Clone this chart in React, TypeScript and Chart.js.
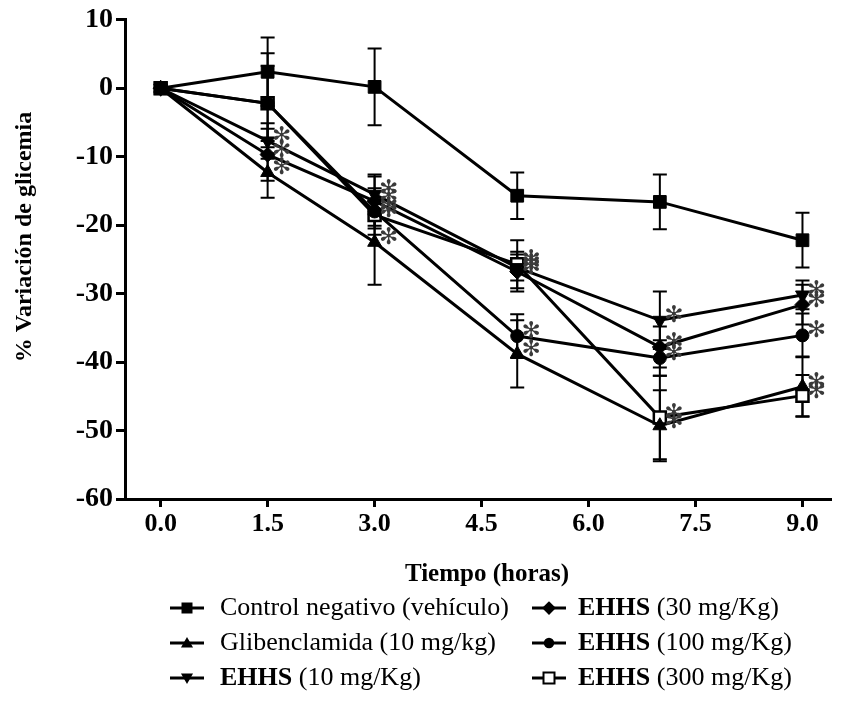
import React, { useEffect, useRef } from 'react';
import { Chart, registerables } from 'chart.js';

Chart.register(...registerables);

// ---------- data ----------
const times = [0, 1.5, 3, 5, 7, 9];
const xTickValues = [0, 1.5, 3, 4.5, 6, 7.5, 9];
const xTickLabels = ['0.0', '1.5', '3.0', '4.5', '6.0', '7.5', '9.0'];
const yTickValues = [-60, -50, -40, -30, -20, -10, 0, 10];

const controlValues = [0, 2.4, 0.2, -15.7, -16.6, -22.2];
const controlErrors = [0, 5.0, 5.6, 3.4, 4.0, 4.0];
const controlSig = [0, 0, 0, 0, 0, 0];

const glibValues = [0, -12.3, -22.5, -38.8, -49.3, -43.6];
const glibErrors = [0, 3.7, 6.2, 4.9, 5.2, 4.4];
const glibSig = [0, 1, 1, 1, 1, 1];

const ehhs10Values = [0, -7.7, -15.5, -26.2, -33.9, -30.2];
const ehhs10Errors = [0, 2.6, 2.9, 1.9, 4.2, 2.1];
const ehhs10Sig = [0, 1, 1, 1, 1, 1];

const ehhs30Values = [0, -9.7, -16.5, -26.8, -37.8, -31.6];
const ehhs30Errors = [0, 3.8, 3.6, 2.9, 3.0, 2.9];
const ehhs30Sig = [0, 1, 1, 1, 1, 1];

const ehhs100Values = [0, -2.2, -18.0, -36.2, -39.4, -36.1];
const ehhs100Errors = [0, 5.5, 3.4, 3.2, 2.6, 3.2];
const ehhs100Sig = [0, 0, 1, 1, 1, 1];

const ehhs300Values = [0, -2.2, -18.5, -25.7, -48.1, -44.9];
const ehhs300Errors = [0, 7.3, 2.0, 3.5, 6.1, 3.0];
const ehhs300Sig = [0, 0, 1, 1, 1, 1];

const legendBold = ['', '', 'EHHS', 'EHHS', 'EHHS', 'EHHS'];
const legendRest = [
  'Control negativo (vehículo)',
  'Glibenclamida (10 mg/kg)',
  ' (10 mg/Kg)',
  ' (30 mg/Kg)',
  ' (100 mg/Kg)',
  ' (300 mg/Kg)',
];
const seriesNames = [
  'Control negativo (vehículo)',
  'Glibenclamida (10 mg/kg)',
  'EHHS (10 mg/Kg)',
  'EHHS (30 mg/Kg)',
  'EHHS (100 mg/Kg)',
  'EHHS (300 mg/Kg)',
];

const yTitle = '% Variación de glicemia';
const xTitle = 'Tiempo (horas)';

// ---------- styles ----------
type Marker = 'square' | 'triangle' | 'invtriangle' | 'diamond' | 'circle' | 'opensquare';
const series = [
  { values: controlValues, errors: controlErrors, sig: controlSig, marker: 'square' as Marker },
  { values: glibValues, errors: glibErrors, sig: glibSig, marker: 'triangle' as Marker },
  { values: ehhs10Values, errors: ehhs10Errors, sig: ehhs10Sig, marker: 'invtriangle' as Marker },
  { values: ehhs30Values, errors: ehhs30Errors, sig: ehhs30Sig, marker: 'diamond' as Marker },
  { values: ehhs100Values, errors: ehhs100Errors, sig: ehhs100Sig, marker: 'circle' as Marker },
  { values: ehhs300Values, errors: ehhs300Errors, sig: ehhs300Sig, marker: 'opensquare' as Marker },
];

const FONT = "'Liberation Serif', 'Times New Roman', serif";

function pointStyleFor(m: Marker) {
  switch (m) {
    case 'square':
      return { pointStyle: 'rect', pointRotation: 0, pointRadius: 9, pointBackgroundColor: '#000', pointBorderWidth: 1 };
    case 'triangle':
      return { pointStyle: 'triangle', pointRotation: 0, pointRadius: 8, pointBackgroundColor: '#000', pointBorderWidth: 1 };
    case 'invtriangle':
      return { pointStyle: 'triangle', pointRotation: 180, pointRadius: 8, pointBackgroundColor: '#000', pointBorderWidth: 1 };
    case 'diamond':
      return { pointStyle: 'rectRot', pointRotation: 0, pointRadius: 7.5, pointBackgroundColor: '#000', pointBorderWidth: 1 };
    case 'circle':
      return { pointStyle: 'circle', pointRotation: 0, pointRadius: 6.5, pointBackgroundColor: '#000', pointBorderWidth: 1 };
    default:
      return { pointStyle: 'rect', pointRotation: 0, pointRadius: 8.5, pointBackgroundColor: '#fff', pointBorderWidth: 2.5 };
  }
}

function drawMarker(ctx: CanvasRenderingContext2D, m: Marker, x: number, y: number, r: number) {
  ctx.save();
  ctx.fillStyle = '#000';
  ctx.strokeStyle = '#000';
  ctx.beginPath();
  if (m === 'square') {
    ctx.rect(x - r, y - r, 2 * r, 2 * r);
    ctx.fill();
  } else if (m === 'opensquare') {
    ctx.lineWidth = 2;
    ctx.fillStyle = '#fff';
    ctx.rect(x - r, y - r, 2 * r, 2 * r);
    ctx.fill();
    ctx.stroke();
  } else if (m === 'triangle') {
    ctx.moveTo(x, y - r * 1.1);
    ctx.lineTo(x + r * 1.1, y + r * 0.8);
    ctx.lineTo(x - r * 1.1, y + r * 0.8);
    ctx.closePath();
    ctx.fill();
  } else if (m === 'invtriangle') {
    ctx.moveTo(x, y + r * 1.1);
    ctx.lineTo(x + r * 1.1, y - r * 0.8);
    ctx.lineTo(x - r * 1.1, y - r * 0.8);
    ctx.closePath();
    ctx.fill();
  } else if (m === 'diamond') {
    ctx.moveTo(x, y - r * 1.25);
    ctx.lineTo(x + r * 1.25, y);
    ctx.lineTo(x, y + r * 1.25);
    ctx.lineTo(x - r * 1.25, y);
    ctx.closePath();
    ctx.fill();
  } else {
    ctx.arc(x, y, r * 0.95, 0, Math.PI * 2);
    ctx.fill();
  }
  ctx.restore();
}

const errorBarPlugin = {
  id: 'errorBars',
  beforeDatasetsDraw(chart: any) {
    const { ctx } = chart;
    const xs = chart.scales.x;
    const ys = chart.scales.y;
    ctx.save();
    ctx.strokeStyle = '#000';
    ctx.lineWidth = 2;
    series.forEach((s) => {
      s.values.forEach((v, i) => {
        const e = s.errors[i];
        if (!e) return;
        const px = xs.getPixelForValue(times[i]);
        const top = ys.getPixelForValue(v + e);
        const bot = ys.getPixelForValue(v - e);
        ctx.beginPath();
        ctx.moveTo(px, top);
        ctx.lineTo(px, bot);
        ctx.moveTo(px - 7, top);
        ctx.lineTo(px + 7, top);
        ctx.moveTo(px - 7, bot);
        ctx.lineTo(px + 7, bot);
        ctx.stroke();
      });
    });
    ctx.restore();
  },
};

const asteriskPlugin = {
  id: 'asterisks',
  afterDatasetsDraw(chart: any) {
    const { ctx } = chart;
    const xs = chart.scales.x;
    const ys = chart.scales.y;
    ctx.save();
    ctx.fillStyle = '#3a3a3a';
    ctx.font = "23px 'DejaVu Sans'";
    ctx.textAlign = 'center';
    ctx.textBaseline = 'middle';
    series.forEach((s) => {
      s.values.forEach((v, i) => {
        if (!s.sig[i]) return;
        const px = xs.getPixelForValue(times[i]);
        const py = ys.getPixelForValue(v);
        ctx.fillText('✻', px + 14, py - 4);
      });
    });
    ctx.restore();
  },
};

const textPlugin = {
  id: 'titlesAndLegend',
  afterDraw(chart: any) {
    const { ctx } = chart;
    ctx.save();
    ctx.fillStyle = '#000';
    // y title
    ctx.save();
    ctx.translate(25, 237);
    ctx.rotate(-Math.PI / 2);
    ctx.font = `bold 24px ${FONT}`;
    ctx.textAlign = 'center';
    ctx.textBaseline = 'middle';
    ctx.fillText(yTitle, 0, 0);
    ctx.restore();
    // x title
    ctx.font = `bold 25px ${FONT}`;
    ctx.textAlign = 'center';
    ctx.textBaseline = 'middle';
    ctx.fillText(xTitle, 487, 575);

    // legend
    const colLineX = [170, 532];
    const colTextX = [220, 578];
    const rowY = [608, 643, 678];
    for (let i = 0; i < series.length; i++) {
      const col = Math.floor(i / 3);
      const row = i % 3;
      const y = rowY[row];
      const lx = colLineX[col];
      ctx.strokeStyle = '#000';
      ctx.lineWidth = 3;
      ctx.beginPath();
      ctx.moveTo(lx, y);
      ctx.lineTo(lx + 34, y);
      ctx.stroke();
      drawMarker(ctx, series[i].marker, lx + 17, y, 5.5);
      let tx = colTextX[col];
      ctx.textAlign = 'left';
      ctx.textBaseline = 'middle';
      if (legendBold[i]) {
        ctx.font = `bold 26px ${FONT}`;
        ctx.fillText(legendBold[i], tx, y);
        tx += ctx.measureText(legendBold[i]).width;
      }
      ctx.font = `26px ${FONT}`;
      ctx.fillText(legendRest[i], tx, y);
    }
    ctx.restore();
  },
};

export default function App() {
  const ref = useRef<HTMLCanvasElement>(null);
  useEffect(() => {
    const cfg: any = {
      type: 'line',
      data: {
        datasets: series.map((s, k) => ({
          label: seriesNames[k],
          data: times.map((t, i) => ({ x: t, y: s.values[i] })),
          borderColor: '#000',
          borderWidth: 3,
          pointBorderColor: '#000',
          tension: 0,
          clip: false,
          ...pointStyleFor(s.marker),
        })),
      },
      options: {
        responsive: false,
        animation: false,
        layout: { padding: { top: 16, left: 0, right: 0, bottom: 0 } },
        plugins: { legend: { display: false }, tooltip: { enabled: false } },
        scales: {
          x: {
            type: 'linear',
            min: -0.5,
            max: 9.4,
            afterBuildTicks: (s: any) => {
              s.ticks = xTickValues.map((v) => ({ value: v }));
            },
            afterFit: (s: any) => {
              s.height = 203;
            },
            ticks: {
              callback: (_v: any, idx: number) => xTickLabels[idx],
              font: { family: FONT, weight: 'bold', size: 26 },
              color: '#000',
              padding: 2,
              maxRotation: 0,
              autoSkip: false,
            },
            grid: { drawOnChartArea: false, drawTicks: true, tickLength: 8, tickWidth: 3, tickColor: '#000' },
            border: { display: true, width: 3, color: '#000' },
          },
          y: {
            type: 'linear',
            min: -60,
            max: 10,
            afterBuildTicks: (s: any) => {
              s.ticks = yTickValues.map((v) => ({ value: v }));
            },
            afterFit: (s: any) => {
              s.width = 125;
            },
            ticks: {
              callback: (v: any) => String(v),
              font: { family: FONT, weight: 'bold', size: 28 },
              color: '#000',
              padding: 3,
              autoSkip: false,
            },
            grid: { drawOnChartArea: false, drawTicks: true, tickLength: 9, tickWidth: 3, tickColor: '#000' },
            border: { display: true, width: 3, color: '#000' },
          },
        },
      },
      plugins: [errorBarPlugin, asteriskPlugin, textPlugin],
    };
    const chart = new Chart(ref.current as HTMLCanvasElement, cfg);
    return () => chart.destroy();
  }, []);
  return (
    <div style={{ position: 'absolute', left: 0, top: 0, width: 842, height: 702, background: '#fff' }}>
      <canvas ref={ref} width={842} height={702} style={{ display: 'block' }} />
    </div>
  );
}
